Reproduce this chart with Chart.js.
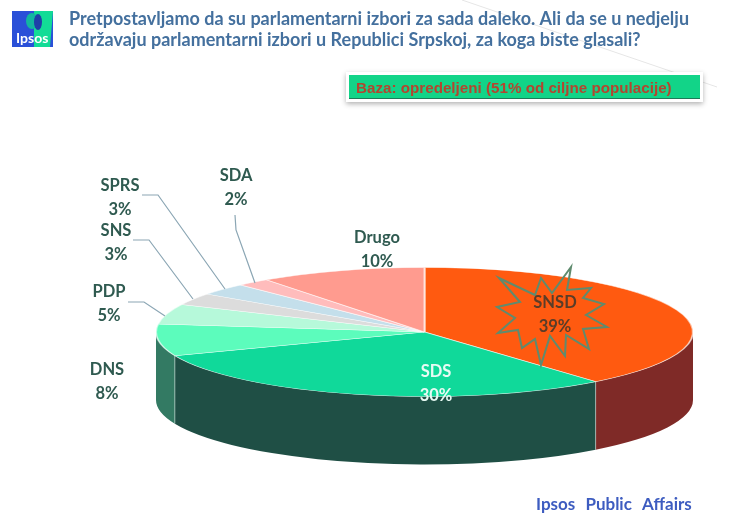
<!DOCTYPE html>
<html>
<head>
<meta charset="utf-8">
<title>Parlamentarni izbori</title>
<script src="https://cdn.jsdelivr.net/npm/chart.js@4"></script>
<style>
  html, body { margin: 0; padding: 0; background: #fff; }
  canvas { display: block; }
</style>
</head>
<body>
<canvas id="pie" width="750" height="519"></canvas>
<script>
const parties = ['SNSD', 'SDS', 'DNS', 'PDP', 'SNS', 'SPRS', 'SDA', 'Drugo'];
const shares = [39, 30, 8, 5, 3, 3, 2, 10];
const topColors = ['#ff5a10', '#10d99a', '#5cfcbc', '#b6f9da', '#dcdcdc', '#c4dfeb', '#ffbcbc', '#ff9b8f'];
const wallColors = ['#7f2a27', '#1f4f45', '#337a63', '#337a63', '#777', '#777', '#777', '#777'];

const titleLines = [
  'Pretpostavljamo da su parlamentarni izbori za sada daleko. Ali da se u nedjelju',
  'održavaju parlamentarni izbori u Republici Srpskoj, za koga biste glasali?'
];
const baseNote = 'Baza: opredeljeni (51% od ciljne populacije)';
const footer = 'Ipsos Public Affairs';

// ellipse the flat pie is squashed onto, and how tall the side wall is
const CX = 424.5, CY = 332, RX = 268.5, RY = 64.5, DEPTH = 68;

// where each party's two-line label sits [centre x, first baseline, colour]
const labelSpots = {
  SNSD: [555, 308, '#5b3d28'],
  SDS: [436, 377, '#e8fbf4'],
  DNS: [107, 375, '#2f5a50'],
  PDP: [109, 297, '#2f5a50'],
  SNS: [116, 236, '#2f5a50'],
  SPRS: [120, 191, '#2f5a50'],
  SDA: [236, 181, '#2f5a50'],
  Drugo: [377, 243, '#2f5a50']
};

const leaderLines = [
  [[142, 195], [158, 195], [225, 289]],
  [[133, 240], [149, 240], [193, 299]],
  [[128, 302], [144, 302], [165, 316]],
  [[235, 215], [236, 230], [255, 283]]
];

const starOutline = [
  [571, 267], [567, 290], [591, 288], [583, 298], [604, 304], [586, 315], [607, 327], [583, 329],
  [589, 349], [566, 335], [565, 356], [550, 336], [541, 365], [535, 339], [522, 348], [518, 330],
  [498, 333], [515, 318], [497, 307], [520, 302], [499, 278], [535, 295], [541, 278], [552, 293]
];

// side wall of the pie: only the part of each slice facing the viewer gets one
const wallPlugin = {
  id: 'wall',
  beforeDatasetsDraw(chart) {
    const { ctx } = chart;
    const arcs = chart.getDatasetMeta(0).data;

    arcs.forEach((arc, i) => {
      const from = Math.max(arc.startAngle, 0);
      const to = Math.min(arc.endAngle, Math.PI);
      if (to <= from) return;
      ctx.beginPath();
      ctx.ellipse(CX, CY, RX, RY, 0, from, to);
      ctx.ellipse(CX, CY + DEPTH, RX, RY, 0, to, from, true);
      ctx.closePath();
      ctx.fillStyle = wallColors[i];
      ctx.fill();
    });

    // pale seams where two slices meet on the wall
    arcs.forEach(arc => {
      if (arc.startAngle <= 0 || arc.startAngle >= Math.PI) return;
      const x = CX + RX * Math.cos(arc.startAngle);
      const y = CY + RY * Math.sin(arc.startAngle);
      ctx.beginPath();
      ctx.moveTo(x, y);
      ctx.lineTo(x, y + DEPTH);
      ctx.strokeStyle = 'rgba(220,235,230,0.55)';
      ctx.lineWidth = 1;
      ctx.stroke();
    });

    // squash the circular pie into the ellipse for the arc drawing that follows
    const first = arcs[0];
    ctx.save();
    ctx.translate(CX, CY);
    ctx.scale(RX / first.outerRadius, RY / first.outerRadius);
    ctx.translate(-first.x, -first.y);
  },
  afterDatasetsDraw(chart) {
    chart.ctx.restore();
  }
};

function drawLogo(ctx) {
  ctx.fillStyle = '#2a50d8';
  ctx.fillRect(12, 11, 41, 36);
  ctx.fillStyle = '#12dc96';
  ctx.beginPath();
  ctx.moveTo(34, 11);
  ctx.lineTo(53, 11);
  ctx.lineTo(50, 47);
  ctx.lineTo(34, 47);
  ctx.closePath();
  ctx.fill();
  ctx.fillStyle = '#12b6a0';
  ctx.beginPath();
  ctx.ellipse(32, 21, 6, 8, 0, 0, Math.PI * 2);
  ctx.fill();
  ctx.fillStyle = '#1f3fa8';
  ctx.beginPath();
  ctx.ellipse(38, 22, 4, 8, 0, 0, Math.PI * 2);
  ctx.fill();
  ctx.fillStyle = '#fff';
  ctx.font = 'bold 14px Lato';
  ctx.textAlign = 'left';
  ctx.fillText('Ipsos', 16, 43);
}

const decorPlugin = {
  id: 'decor',
  beforeDraw(chart) {
    const { ctx } = chart;
    // faint slide rule running behind the header
    ctx.strokeStyle = '#e6e6e6';
    ctx.lineWidth = 1;
    ctx.beginPath();
    ctx.moveTo(462, 0);
    ctx.lineTo(717, 87);
    ctx.stroke();
  },
  afterDraw(chart) {
    const { ctx } = chart;
    ctx.textBaseline = 'alphabetic';

    drawLogo(ctx);

    ctx.textAlign = 'left';
    ctx.fillStyle = '#44709e';
    ctx.font = 'bold 18px Lato';
    ctx.fillText(titleLines[0], 69, 25);
    ctx.fillText(titleLines[1], 69, 46);

    // green note box
    ctx.save();
    ctx.shadowColor = 'rgba(0,0,0,0.3)';
    ctx.shadowBlur = 5;
    ctx.shadowOffsetY = 2;
    ctx.fillStyle = '#fff';
    ctx.fillRect(346, 72, 357, 30);
    ctx.restore();
    ctx.fillStyle = '#12d488';
    ctx.fillRect(349, 75, 351, 24);
    ctx.fillStyle = '#1c7a58';
    ctx.fillRect(349, 98, 351, 1);
    ctx.fillStyle = '#b4452f';
    ctx.font = 'bold 15.2px "Liberation Sans"';
    ctx.fillText(baseNote, 356, 93);

    // leader lines
    ctx.strokeStyle = '#8ba6b4';
    ctx.lineWidth = 1.2;
    leaderLines.forEach(points => {
      ctx.beginPath();
      points.forEach(([x, y], i) => (i ? ctx.lineTo(x, y) : ctx.moveTo(x, y)));
      ctx.stroke();
    });

    // burst around the winner
    ctx.strokeStyle = '#5f8b6e';
    ctx.lineWidth = 2;
    ctx.lineJoin = 'miter';
    ctx.beginPath();
    starOutline.forEach(([x, y], i) => (i ? ctx.lineTo(x, y) : ctx.moveTo(x, y)));
    ctx.closePath();
    ctx.stroke();

    // party name and share
    ctx.textAlign = 'center';
    ctx.font = 'bold 16.5px Lato';
    parties.forEach((name, i) => {
      const [x, y, color] = labelSpots[name];
      ctx.fillStyle = color;
      ctx.fillText(name, x, y);
      ctx.fillText(shares[i] + '%', x, y + 24);
    });

    ctx.textAlign = 'left';
    ctx.fillStyle = '#3d5cc0';
    ctx.font = 'bold 17px Lato';
    ctx.wordSpacing = '6px';
    ctx.fillText(footer, 536, 510);
    ctx.wordSpacing = '0px';
  }
};

new Chart(document.getElementById('pie'), {
  type: 'pie',
  data: {
    labels: parties,
    datasets: [{
      data: shares,
      backgroundColor: topColors,
      borderColor: 'rgba(255,255,255,0.6)',
      borderWidth: 2,
      clip: false
    }]
  },
  options: {
    responsive: false,
    animation: false,
    plugins: {
      legend: { display: false },
      tooltip: { enabled: false },
      title: { display: false }
    }
  },
  plugins: [wallPlugin, decorPlugin]
});
</script>
</body>
</html>
